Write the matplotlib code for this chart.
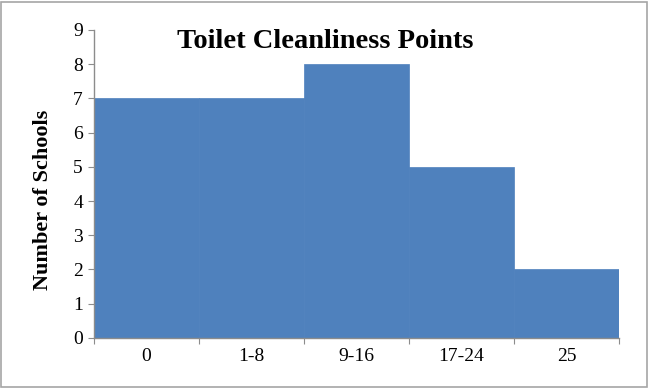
import matplotlib
matplotlib.use("Agg")
import matplotlib.pyplot as plt
from matplotlib.patches import Rectangle

# cleanliness point bands and number of schools in each
categories = ["0", "1-8", "9-16", "17-24", "25"]
schools = [7, 7, 8, 5, 2]

BLUE = "#4F81BD"
GREY = "#8C8C8C"

plt.rcParams["font.family"] = ["Liberation Serif", "DejaVu Serif"]

fig = plt.figure(figsize=(6.49, 3.88), dpi=100)
fig.patches.append(Rectangle((0.002, 0.003), 0.995, 0.993, transform=fig.transFigure,
                             fill=False, edgecolor="#A6A6A6", lw=1.2))
ax = fig.add_axes([0.145, 0.129, 0.809, 0.794])

x = range(len(categories))
ax.bar(x, schools, width=1.0, color=BLUE, edgecolor=BLUE, linewidth=0.5)

ax.set_xlim(-0.5, len(categories) - 0.5)
ax.set_ylim(0, 9)
ax.set_yticks(range(10))
ax.set_yticklabels([str(v) for v in range(10)], fontsize=14)
ax.set_xticks([i - 0.5 for i in range(len(categories) + 1)])
ax.set_xticklabels([])
ax.set_xticks(list(x), minor=True)
ax.set_xticklabels(categories, minor=True, fontsize=14)
ax.tick_params(axis="x", which="minor", length=0, pad=7)
ax.tick_params(axis="x", which="major", length=4, color=GREY, direction="out")
ax.tick_params(axis="y", length=4, color=GREY, pad=4)

for side in ("top", "right"):
    ax.spines[side].set_visible(False)
for side in ("left", "bottom"):
    ax.spines[side].set_color(GREY)
    ax.spines[side].set_linewidth(1.0)

# y label sits a little below the axes centre
fig.text(0.066, 0.485, "Number of Schools", rotation=90, ha="center", va="center",
         fontsize=16, fontweight="bold")
fig.text(0.501, 0.892, "Toilet Cleanliness Points", ha="center", va="center",
         fontsize=20.5, fontweight="bold")

fig.savefig("out.png", dpi=100)
